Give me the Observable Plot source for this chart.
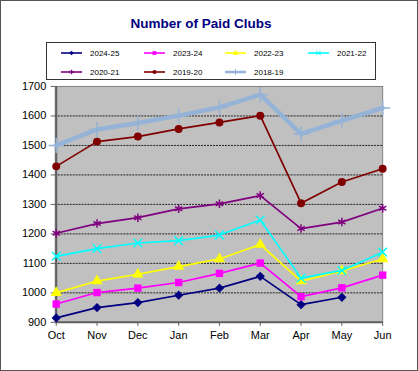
<!DOCTYPE html>
<html>
<head>
<meta charset="utf-8">
<script src="https://cdn.jsdelivr.net/npm/d3@7"></script>
<script src="https://cdn.jsdelivr.net/npm/@observablehq/plot@0.6"></script>
<style>
  html, body { margin: 0; padding: 0; background: #fff; }
  #wrap { position: relative; width: 416px; height: 369px; border: 1px solid #555; overflow: hidden; font-family: "Liberation Sans", Arial, sans-serif; }
  #title { position: absolute; left: 0; top: 15px; width: 400px; text-align: center; font-size: 13.5px; font-weight: bold; color: #000080; }
  #legend { position: absolute; left: 45px; top: 41px; width: 328px; height: 36px; border: 1px solid #333; background: #fff; }
  #chart { position: absolute; left: 0; top: 80px; }
</style>
</head>
<body>
<div id="wrap">
  <div id="title">Number of Paid Clubs</div>
  <div id="legend"></div>
  <div id="chart"></div>
</div>
<script>
const months = ["Oct","Nov","Dec","Jan","Feb","Mar","Apr","May","Jun"];
const yTicks = [900,1000,1100,1200,1300,1400,1500,1600,1700];

const seriesNames = ["2024-25","2023-24","2022-23","2021-22","2020-21","2019-20","2018-19"];
const s2024_25 = [915, 950, 967, 992, 1016, 1056, 960, 985, null];
const s2023_24 = [962, 1001, 1016, 1035, 1066, 1101, 987, 1017, 1060];
const s2022_23 = [1000, 1040, 1063, 1089, 1115, 1164, 1040, 1074, 1115];
const s2021_22 = [1124, 1150, 1169, 1177, 1196, 1247, 1050, 1076, 1138];
const s2020_21 = [1202, 1235, 1255, 1285, 1302, 1330, 1218, 1240, 1287];
const s2019_20 = [1429, 1513, 1530, 1556, 1578, 1601, 1304, 1376, 1421];
const s2018_19 = [1500, 1554, 1576, 1601, 1629, 1672, 1539, 1584, 1627];
const seriesValues = [s2024_25, s2023_24, s2022_23, s2021_22, s2020_21, s2019_20, s2018_19];

const colors = ["#000080","#FF00FF","#FFFF00","#00FFFF","#800080","#800000","#95B3D7"];
const symbols = ["diamond2","square","triangle","times","asterisk","circle","plus"];
const filled = [true,true,true,false,false,true,false];
const radius = [4.2,4.2,4.2,4,4,4,5];
const widths = [1.7,1.7,1.7,1.7,1.7,1.7,4.5];

const marks = [
  Plot.frame({fill: "#C0C0C0", stroke: "#808080"}),
  Plot.ruleY(yTicks.slice(1, -1), {stroke: "#222", strokeDasharray: "2,1", strokeWidth: 1}),
  Plot.ruleX([months[0]], {stroke: "#606060", strokeWidth: 2}),
  Plot.ruleY([yTicks[0]], {stroke: "#606060", strokeWidth: 2}),
  Plot.axisY({ticks: yTicks, tickFormat: d3.format("d"), tickSize: 4, tickPadding: 5, stroke: "#606060", fontSize: 11, label: null}),
  Plot.axisX({tickSize: 4, tickPadding: 5, stroke: "#606060", fontSize: 11, label: null})
];

seriesNames.forEach((name, i) => {
  const data = months.map((m, j) => ({month: m, value: seriesValues[i][j]})).filter(d => d.value != null);
  marks.push(Plot.line(data, {x: "month", y: "value", stroke: colors[i], strokeWidth: widths[i]}));
  marks.push(Plot.dot(data, filled[i]
    ? {x: "month", y: "value", symbol: symbols[i], r: radius[i], fill: colors[i], stroke: "none"}
    : {x: "month", y: "value", symbol: symbols[i], r: radius[i], stroke: colors[i], strokeWidth: 1.5, fill: "none"}));
});

const chart = Plot.plot({
  width: 418, height: 270,
  marginLeft: 54, marginRight: 35, marginTop: 5, marginBottom: 28,
  x: {type: "point", domain: months, padding: 0},
  y: {domain: [900, 1700]},
  style: {background: "transparent", fontFamily: "'Liberation Sans', Arial, sans-serif", fontSize: "11px", color: "#000"},
  marks
});
document.getElementById("chart").appendChild(chart);

// legend
const lx = [14, 97, 178, 261];
const ly = [10, 29];
const leg = d3.select("#legend").append("svg").attr("width", 328).attr("height", 36)
  .style("font-family", "'Liberation Sans', Arial, sans-serif").style("font-size", "8px");
const symMap = {diamond2: d3.symbolDiamond2, square: d3.symbolSquare, triangle: d3.symbolTriangle, times: d3.symbolTimes, asterisk: d3.symbolAsterisk, circle: d3.symbolCircle, plus: d3.symbolPlus};
seriesNames.forEach((name, i) => {
  const x = lx[i % 4], y = ly[Math.floor(i / 4)];
  const g = leg.append("g").attr("transform", `translate(${x},${y})`);
  g.append("line").attr("x1", 0).attr("x2", 21).attr("y1", 0).attr("y2", 0)
    .attr("stroke", colors[i]).attr("stroke-width", i === 6 ? 2.5 : 1.6);
  g.append("path").attr("transform", "translate(10.5,0)")
    .attr("d", d3.symbol(symMap[symbols[i]], 14)())
    .attr("fill", filled[i] ? colors[i] : "none")
    .attr("stroke", filled[i] ? "none" : colors[i]).attr("stroke-width", 1);
  g.append("text").attr("x", 29).attr("y", 3).text(name).attr("fill", "#000");
});
</script>
</body>
</html>
